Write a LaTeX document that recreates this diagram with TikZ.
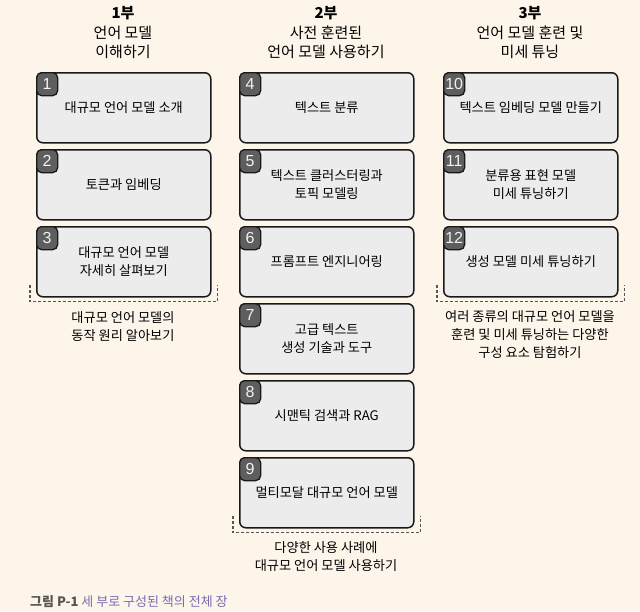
\documentclass[tikz,border=0pt]{standalone}
\usepackage{fontspec}
\setmainfont{Noto Sans CJK KR}
\newfontfamily\numfont{Liberation Sans}
\usetikzlibrary{calc}
\definecolor{bgcol}{HTML}{FDF5E9}
\definecolor{boxfill}{HTML}{ECECEC}
\definecolor{badgefill}{HTML}{5E5E5E}
\definecolor{dashcol}{HTML}{555555}
\definecolor{capgray}{HTML}{555555}
\definecolor{cappurple}{HTML}{7A6BB2}
\tikzset{
  chapbox/.style={draw=black!90, line width=1.5pt, fill=boxfill, rounded corners=6pt,
    minimum width=174pt, minimum height=70pt, anchor=north west, inner sep=0pt,
    align=center, font=\fontsize{13.2}{17.5}\selectfont},
  badge/.style={draw=black!90, line width=1.3pt, fill=badgefill, rounded corners=5pt,
    minimum width=21pt, minimum height=23pt, anchor=north west, inner sep=0.5pt,
    text=white!95!black, font=\numfont\fontsize{16}{16}\selectfont},
  header/.style={align=center, anchor=north, inner sep=0pt, font=\fontsize{15}{19.5}\selectfont},
  parttext/.style={align=center, anchor=north, inner sep=0pt, font=\fontsize{13.2}{18}\selectfont},
  bracket/.style={draw=dashcol, line width=1.5pt, dash pattern=on 3pt off 2pt},
}
\begin{document}
\begin{tikzpicture}[x=1pt,y=-1pt]
\fill[bgcol] (0,0) rectangle (640,611);
\useasboundingbox (0,0) rectangle (640,611);

% headers
\node[header] (h1) at (123,6.5) {{\bfseries 1부}\\언어 모델\\이해하기};
\node[header] (h2) at (326,6.5) {{\bfseries 2부}\\사전 훈련된\\언어 모델 사용하기};
\node[header] (h3) at (530,6.5) {{\bfseries 3부}\\언어 모델 훈련 및\\미세 튜닝};

% part 1
\node[chapbox] (b1) at (36,72) {대규모 언어 모델 소개};
\node[chapbox] (b2) at (36,149) {토큰과 임베딩};
\node[chapbox] (b3) at (36,226) {대규모 언어 모델\\자세히 살펴보기};
% part 2
\node[chapbox] (b4) at (239,72) {텍스트 분류};
\node[chapbox] (b5) at (239,149) {텍스트 클러스터링과\\토픽 모델링};
\node[chapbox] (b6) at (239,226) {프롬프트 엔지니어링};
\node[chapbox] (b7) at (239,303) {고급 텍스트\\생성 기술과 도구};
\node[chapbox] (b8) at (239,380) {시맨틱 검색과 RAG};
\node[chapbox] (b9) at (239,457) {멀티모달 대규모 언어 모델};
% part 3
\node[chapbox] (b10) at (443,72) {텍스트 임베딩 모델 만들기};
\node[chapbox] (b11) at (443,149) {분류용 표현 모델\\미세 튜닝하기};
\node[chapbox] (b12) at (443,226) {생성 모델 미세 튜닝하기};

% badges
\foreach \n in {1,...,12} {
  \node[badge] (n\n) at (b\n.north west) {\n};
}

% dashed brackets
\draw[bracket] ($(b3.south west)+(-6,-13)$) -- ($(b3.south west)+(-6,4)$)
  -- ($(b3.south east)+(6,4)$) -- ($(b3.south east)+(6,-13)$);
\draw[bracket] ($(b9.south west)+(-6,-13)$) -- ($(b9.south west)+(-6,4)$)
  -- ($(b9.south east)+(6,4)$) -- ($(b9.south east)+(6,-13)$);
\draw[bracket] ($(b12.south west)+(-6,-13)$) -- ($(b12.south west)+(-6,4)$)
  -- ($(b12.south east)+(6,4)$) -- ($(b12.south east)+(6,-13)$);

% part descriptions
\node[parttext] (d1) at (123,311) {대규모 언어 모델의\\동작 원리 알아보기};
\node[parttext] (d2) at (326,541) {다양한 사용 사례에\\대규모 언어 모델 사용하기};
\node[parttext] (d3) at (530,310) {여러 종류의 대규모 언어 모델을\\훈련 및 미세 튜닝하는 다양한\\구성 요소 탐험하기};

% caption
\node[anchor=west, inner sep=0pt, font=\fontsize{13}{15}\selectfont] (cap) at (30,602)
  {\textcolor{capgray}{\bfseries 그림 P-1}\ \textcolor{cappurple}{세 부로 구성된 책의 전체 장}};
\end{tikzpicture}
\end{document}
